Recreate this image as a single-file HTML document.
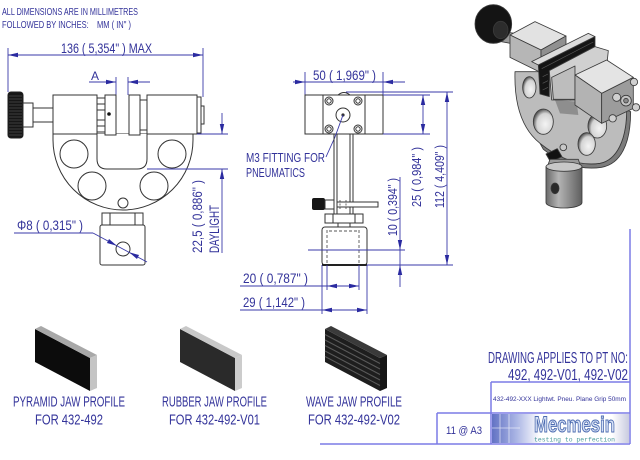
<!DOCTYPE html>
<html>
<head>
<meta charset="utf-8">
<style>
  html, body { margin: 0; padding: 0; background: #ffffff; }
  svg { display: block; }
  .t { font-family: "Liberation Sans Narrow", "Liberation Sans", sans-serif; fill: #33339a; }
  .o { fill: none; stroke: #333333; stroke-width: 1; }
  .ow { fill: #ffffff; stroke: #333333; stroke-width: 1; }
  .d { fill: none; stroke: #3a3aa8; stroke-width: 0.9; }
  .a { fill: #2a2aa0; stroke: none; }
  .tb { fill: none; stroke: #7b7be6; stroke-width: 1.5; }
</style>
</head>
<body>
<svg width="640" height="460" viewBox="0 0 640 460" xmlns="http://www.w3.org/2000/svg">
  <defs>
    <linearGradient id="logoG" x1="0" y1="0" x2="1" y2="0">
      <stop offset="0" stop-color="#6272c4"/>
      <stop offset="0.5" stop-color="#a9b4e4"/>
      <stop offset="1" stop-color="#ffffff"/>
    </linearGradient>
    <linearGradient id="logoR" x1="0" y1="0" x2="1" y2="0">
      <stop offset="0" stop-color="#ffffff"/>
      <stop offset="1" stop-color="#c9cbe0"/>
    </linearGradient>
    <linearGradient id="cyl" x1="0" y1="0" x2="1" y2="0">
      <stop offset="0" stop-color="#6a6a6a"/>
      <stop offset="0.35" stop-color="#b4b4b4"/>
      <stop offset="1" stop-color="#5e5e5e"/>
    </linearGradient>
    <radialGradient id="hole" cx="0.6" cy="0.6" r="0.6">
      <stop offset="0" stop-color="#f4f4f4"/>
      <stop offset="0.7" stop-color="#d4d4d4"/>
      <stop offset="1" stop-color="#5a5a5a"/>
    </radialGradient>
  </defs>

  <rect x="0" y="0" width="640" height="460" fill="#ffffff"/>

  <!-- Header notes -->
  <text class="t" x="2" y="15" font-size="10.5" textLength="136" lengthAdjust="spacingAndGlyphs">ALL DIMENSIONS ARE IN MILLIMETRES</text>
  <text class="t" x="2" y="28" font-size="10.5" textLength="129" lengthAdjust="spacingAndGlyphs" style="white-space:pre">FOLLOWED BY INCHES:    MM ( IN" )</text>

  <!-- ================= LEFT VIEW ================= -->
  <text class="t" x="61" y="53" font-size="14" textLength="91" lengthAdjust="spacingAndGlyphs">136 ( 5,354" ) MAX</text>
  <line class="d" x1="8" y1="55" x2="203" y2="55"/>
  <line class="d" x1="8" y1="48" x2="8" y2="92"/>
  <line class="d" x1="203" y1="48" x2="203" y2="97"/>
  <polygon class="a" points="8,55 18,52.8 18,57.2"/>
  <polygon class="a" points="203,55 193,52.8 193,57.2"/>

  <text class="t" x="91" y="80" font-size="11.5" textLength="8" lengthAdjust="spacingAndGlyphs">A</text>
  <line class="d" x1="89" y1="82" x2="116" y2="82"/>
  <line class="d" x1="128" y1="82" x2="150" y2="82"/>
  <line class="d" x1="116" y1="77" x2="116" y2="95"/>
  <line class="d" x1="128" y1="77" x2="128" y2="95"/>
  <polygon class="a" points="116,82 106,79.8 106,84.2"/>
  <polygon class="a" points="128,82 138,79.8 138,84.2"/>

  <!-- knob -->
  <rect x="8" y="92" width="15" height="46" rx="3" fill="#161616" stroke="#222"/>
  <g stroke="#4a4a4a" stroke-width="0.8">
    <line x1="9" y1="96" x2="22" y2="96"/><line x1="9" y1="99" x2="22" y2="99"/>
    <line x1="9" y1="102" x2="22" y2="102"/><line x1="9" y1="105" x2="22" y2="105"/>
    <line x1="9" y1="108" x2="22" y2="108"/><line x1="9" y1="111" x2="22" y2="111"/>
    <line x1="9" y1="114" x2="22" y2="114"/><line x1="9" y1="117" x2="22" y2="117"/>
    <line x1="9" y1="120" x2="22" y2="120"/><line x1="9" y1="123" x2="22" y2="123"/>
    <line x1="9" y1="126" x2="22" y2="126"/><line x1="9" y1="129" x2="22" y2="129"/>
    <line x1="9" y1="132" x2="22" y2="132"/><line x1="9" y1="135" x2="22" y2="135"/>
  </g>
  <rect class="ow" x="23" y="103" width="10" height="24"/>
  <rect class="ow" x="33" y="108" width="20" height="14"/>

  <!-- body (U plate) -->
  <path class="ow" d="M53,134 L53,140 A70,70 0 0 0 193,140 L193,134 Z"/>
  <path class="ow" d="M97,134 L97,159 Q97,169 107,169 L137,169 Q147,169 147,159 L147,134"/>
  <circle class="o" cx="74" cy="154" r="14"/>
  <circle class="o" cx="172" cy="154" r="14"/>
  <circle class="o" cx="92" cy="186" r="14"/>
  <circle class="o" cx="154" cy="186" r="14"/>
  <circle class="ow" cx="123" cy="203" r="5"/>

  <!-- blocks & jaws -->
  <rect class="ow" x="53" y="95" width="44" height="39"/>
  <rect class="ow" x="97" y="98" width="8" height="34"/>
  <g class="o"><line x1="97" y1="104" x2="105" y2="104"/><line x1="97" y1="110" x2="105" y2="110"/><line x1="97" y1="120" x2="105" y2="120"/><line x1="97" y1="126" x2="105" y2="126"/></g>
  <rect class="ow" x="105" y="95" width="11" height="40"/>
  <circle cx="109" cy="114" r="1.8" fill="#111"/>
  <rect class="ow" x="129" y="95" width="11" height="40"/>
  <rect class="ow" x="140" y="100" width="7" height="30"/>
  <rect class="ow" x="147" y="95" width="50" height="39"/>
  <rect class="ow" x="197" y="97" width="4" height="36"/>
  <rect class="ow" x="201" y="106" width="3" height="18"/>

  <!-- nut & base -->
  <rect class="ow" x="102" y="213" width="41" height="12"/>
  <line class="o" x1="110" y1="213" x2="110" y2="225"/>
  <line class="o" x1="135" y1="213" x2="135" y2="225"/>
  <rect class="ow" x="100" y="225" width="45" height="40" rx="2"/>
  <circle class="ow" cx="123" cy="249" r="7"/>

  <!-- phi dim -->
  <text class="t" x="17" y="230" font-size="14" textLength="66" lengthAdjust="spacingAndGlyphs">Φ8 ( 0,315" )</text>
  <line class="d" x1="14" y1="233" x2="93" y2="233"/>
  <line class="d" x1="93" y1="233" x2="147" y2="262"/>
  <polygon class="a" points="116.8,245.7 106.96,242.94 109.04,239.06"/>
  <polygon class="a" points="129.2,252.3 136.96,258.94 139.04,255.06"/>

  <!-- daylight dim -->
  <line class="d" x1="197" y1="134" x2="228" y2="134"/>
  <line class="d" x1="147" y1="169" x2="228" y2="169"/>
  <line class="d" x1="222" y1="113" x2="222" y2="134"/>
  <line class="d" x1="222" y1="169" x2="222" y2="253"/>
  <polygon class="a" points="222,134 219.8,124 224.2,124"/>
  <polygon class="a" points="222,169 219.8,179 224.2,179"/>
  <text class="t" transform="translate(202,253) rotate(-90)" x="0" y="0" font-size="14" textLength="73" lengthAdjust="spacingAndGlyphs">22,5 ( 0,886" )</text>
  <text class="t" transform="translate(219,253) rotate(-90)" x="0" y="0" font-size="14" textLength="48" lengthAdjust="spacingAndGlyphs">DAYLIGHT</text>

  <!-- ================= MIDDLE VIEW ================= -->
  <text class="t" x="313" y="80" font-size="13.5" textLength="63" lengthAdjust="spacingAndGlyphs">50 ( 1,969" )</text>
  <line class="d" x1="293" y1="82" x2="405" y2="82"/>
  <line class="d" x1="305" y1="72" x2="305" y2="95"/>
  <line class="d" x1="383" y1="72" x2="383" y2="95"/>
  <polygon class="a" points="305,82 295,79.8 295,84.2"/>
  <polygon class="a" points="383,82 393,79.8 393,84.2"/>

  <path class="ow" d="M338,95 Q344,90 350,95"/>
  <rect class="ow" x="305" y="95" width="78" height="39"/>
  <line class="o" x1="323" y1="95" x2="323" y2="134"/>
  <line class="o" x1="365" y1="95" x2="365" y2="134"/>
  <g class="ow">
    <circle cx="329" cy="101" r="4"/><circle cx="358" cy="101" r="4"/>
    <circle cx="329" cy="129" r="4"/><circle cx="358" cy="129" r="4"/>
  </g>
  <g class="o">
    <circle cx="329" cy="101" r="2.2"/><circle cx="358" cy="101" r="2.2"/>
    <circle cx="329" cy="129" r="2.2"/><circle cx="358" cy="129" r="2.2"/>
  </g>
  <circle class="ow" cx="343" cy="115" r="7"/>
  <circle cx="343" cy="115" r="1.6" fill="#333"/>
  <polyline class="d" points="343,115 335,137 326,157"/>
  <text class="t" x="246" y="162" font-size="13" textLength="79" lengthAdjust="spacingAndGlyphs">M3 FITTING FOR</text>
  <text class="t" x="246" y="177" font-size="13" textLength="59" lengthAdjust="spacingAndGlyphs">PNEUMATICS</text>

  <g class="o">
    <line x1="334" y1="134" x2="334" y2="214"/>
    <line x1="337" y1="134" x2="337" y2="214"/>
    <line x1="350" y1="134" x2="350" y2="214"/>
    <line x1="353" y1="134" x2="353" y2="214"/>
  </g>
  <rect x="312" y="198" width="13" height="12" rx="2" fill="#161616"/>
  <rect class="ow" x="325" y="200" width="9" height="9"/>
  <rect class="ow" x="337" y="202" width="41" height="5"/>
  <g stroke="#444" stroke-width="0.8" stroke-dasharray="2,1.5">
    <line x1="340" y1="200" x2="340" y2="209"/>
    <line x1="346" y1="200" x2="346" y2="209"/>
  </g>
  <rect class="ow" x="325" y="214" width="38" height="9"/>
  <line class="o" x1="333" y1="214" x2="333" y2="223"/>
  <line class="o" x1="355" y1="214" x2="355" y2="223"/>
  <rect class="ow" x="338" y="223" width="12" height="4"/>
  <rect class="ow" x="322" y="227" width="45" height="38" rx="3"/>
  <g stroke="#555" stroke-width="0.9" stroke-dasharray="3,2" fill="none">
    <line x1="327" y1="230" x2="327" y2="263"/>
    <line x1="359" y1="230" x2="359" y2="263"/>
    <line x1="329" y1="231" x2="357" y2="231"/>
  </g>
  <line x1="322" y1="265" x2="367" y2="265" stroke="#222" stroke-width="2"/>

  <line class="d" x1="308" y1="250" x2="405" y2="250"/>
  <line class="d" x1="367" y1="265" x2="453" y2="265"/>

  <text class="t" x="243" y="283" font-size="13.5" textLength="65" lengthAdjust="spacingAndGlyphs">20 ( 0,787" )</text>
  <line class="d" x1="240" y1="286" x2="359" y2="286"/>
  <line class="d" x1="327" y1="265" x2="327" y2="290"/>
  <line class="d" x1="359" y1="265" x2="359" y2="290"/>
  <polygon class="a" points="327,286 337,283.8 337,288.2"/>
  <polygon class="a" points="359,286 349,283.8 349,288.2"/>

  <text class="t" x="243" y="307" font-size="13.5" textLength="62" lengthAdjust="spacingAndGlyphs">29 ( 1,142" )</text>
  <line class="d" x1="240" y1="310" x2="367" y2="310"/>
  <line class="d" x1="322" y1="265" x2="322" y2="314"/>
  <line class="d" x1="367" y1="265" x2="367" y2="314"/>
  <polygon class="a" points="322,310 332,307.8 332,312.2"/>
  <polygon class="a" points="367,310 357,307.8 357,312.2"/>

  <line class="d" x1="346" y1="92" x2="453" y2="92"/>
  <line class="d" x1="383" y1="95" x2="430" y2="95"/>
  <line class="d" x1="383" y1="134" x2="430" y2="134"/>
  <line class="d" x1="423" y1="95" x2="423" y2="134"/>
  <polygon class="a" points="423,95 420.8,105 425.2,105"/>
  <polygon class="a" points="423,134 420.8,124 425.2,124"/>
  <text class="t" transform="translate(421,207) rotate(-90)" x="0" y="0" font-size="13" textLength="60" lengthAdjust="spacingAndGlyphs">25 ( 0,984" )</text>

  <line class="d" x1="447" y1="92" x2="447" y2="265"/>
  <polygon class="a" points="447,92 444.8,102 449.2,102"/>
  <polygon class="a" points="447,265 444.8,255 449.2,255"/>
  <text class="t" transform="translate(444,208) rotate(-90)" x="0" y="0" font-size="13" textLength="63" lengthAdjust="spacingAndGlyphs">112 ( 4,409" )</text>

  <line class="d" x1="400" y1="177" x2="400" y2="287"/>
  <polygon class="a" points="400,250 397.8,240 402.2,240"/>
  <polygon class="a" points="400,265 397.8,275 402.2,275"/>
  <text class="t" transform="translate(397,236) rotate(-90)" x="0" y="0" font-size="13" textLength="58" lengthAdjust="spacingAndGlyphs">10 ( 0,394" )</text>

  <!-- ================= 3D RENDER ================= -->
  <g transform="translate(460 0) scale(0.3333)" stroke="#3a3a3a" stroke-width="2.5" stroke-linejoin="round">
    <!-- plate thickness -->
    <path d="M500,330 C500,420 470,480 420,490 C350,500 290,470 240,430 L250,448 C300,488 360,512 425,502 C482,492 512,432 512,335 Z" fill="#7c7c7c"/>
    <!-- plate face -->
    <path d="M165,215 L245,215 L330,300 L490,265 L500,330 C500,420 470,480 420,490 C350,500 290,470 240,430 C190,390 162,320 165,215 Z" fill="#bcbcbc"/>
    <ellipse cx="208" cy="262" rx="20" ry="32" fill="url(#hole)"/>
    <ellipse cx="250" cy="365" rx="30" ry="38" fill="url(#hole)"/>
    <ellipse cx="412" cy="378" rx="28" ry="36" fill="url(#hole)"/>
    <ellipse cx="380" cy="432" rx="26" ry="34" fill="url(#hole)"/>
    <!-- slot shadow -->
    <path d="M285,300 L300,340 L355,345 L350,305 Z" fill="#8e8e8e" stroke="none"/>
    <!-- knob & shaft -->
    <path d="M118,92 L162,100 L162,132 L118,124 Z" fill="#9a9a9a"/>
    <ellipse cx="100" cy="72" rx="55" ry="58" fill="#141414"/>
    <ellipse cx="122" cy="90" rx="22" ry="26" fill="#2c2c2c"/>
    <!-- left block -->
    <path d="M150,105 L225,65 L318,108 L243,150 Z" fill="#e2e2e2"/>
    <path d="M150,105 L243,150 L243,218 L150,172 Z" fill="#b6b6b6"/>
    <path d="M243,150 L318,108 L318,170 L243,218 Z" fill="#909090"/>
    <!-- rear jaw -->
    <path d="M215,185 L385,100 L405,110 L235,195 Z" fill="#dcdcdc"/>
    <path d="M235,195 L405,110 L405,140 L268,212 L268,290 L240,282 Z" fill="#151515"/>
    <g stroke="#585858" stroke-width="2">
      <line x1="245" y1="206" x2="400" y2="126"/>
      <line x1="248" y1="230" x2="264" y2="222"/>
      <line x1="248" y1="250" x2="264" y2="242"/>
      <line x1="248" y1="270" x2="264" y2="262"/>
    </g>
    <!-- front jaw -->
    <path d="M268,212 L405,140 L445,152 L440,200 L345,252 L345,300 L275,300 Z" fill="#d0d0d0"/>
    <path d="M275,232 L345,198 L345,298 L280,298 Z" fill="#bdbdbd"/>
    <!-- right block -->
    <path d="M345,225 L440,180 L520,232 L425,280 Z" fill="#e4e4e4"/>
    <path d="M345,225 L425,280 L425,370 L345,315 Z" fill="#b3b3b3"/>
    <path d="M425,280 L520,232 L520,325 L425,370 Z" fill="#9c9c9c"/>
    <circle cx="470" cy="292" r="12" fill="#d0d0d0"/>
    <circle cx="522" cy="246" r="11" fill="#d0d0d0"/>
    <circle cx="458" cy="355" r="11" fill="#d0d0d0"/>
    <circle cx="528" cy="322" r="11" fill="#d0d0d0"/>
    <circle cx="498" cy="302" r="16" fill="#c4c4c4"/>
    <circle cx="498" cy="302" r="7" fill="#8a8a8a"/>
    <!-- pin -->
    <circle cx="310" cy="442" r="10" fill="#c8c8c8"/>
    <path d="M258,462 L292,446 L306,470 L272,486 Z" fill="#111"/>
    <!-- base cylinder -->
    <path d="M270,478 L355,478 L362,500 L262,500 Z" fill="#9a9a9a"/>
    <path d="M258,500 L366,500 L366,608 A54,16 0 0 1 258,608 Z" fill="url(#cyl)"/>
    <ellipse cx="312" cy="500" rx="54" ry="14" fill="#c8c8c8"/>
    <ellipse cx="285" cy="565" rx="12" ry="16" fill="#2a2a2a"/>
  </g>

  <!-- ================= JAW PROFILES ================= -->
  <polygon points="35,329 90,358 90,391 35,362" fill="#0c0c0c"/>
  <polygon points="35,329 41,326 97,355 90,358" fill="#a8a8a8"/>
  <polygon points="90,358 97,355 97,388 90,391" fill="#c4c4c4"/>

  <polygon points="180,329 235,358 235,391 180,362" fill="#2a2a2a"/>
  <polygon points="180,329 186,326 242,355 235,358" fill="#c8c8c8"/>
  <polygon points="235,358 242,355 242,388 235,391" fill="#cccccc"/>

  <polygon points="325,329 380,358 380,391 325,362" fill="#1e1e1e"/>
  <polygon points="325,329 331,326 387,355 380,358" fill="#3a3a3a"/>
  <polygon points="380,358 387,355 387,388 380,391" fill="#151515"/>
  <g stroke="#5a5a5a" stroke-width="1">
    <line x1="325" y1="334.5" x2="380" y2="363.5"/>
    <line x1="325" y1="340" x2="380" y2="369"/>
    <line x1="325" y1="345.5" x2="380" y2="374.5"/>
    <line x1="325" y1="351" x2="380" y2="380"/>
    <line x1="325" y1="356.5" x2="380" y2="385.5"/>
  </g>

  <text class="t" x="13" y="406.5" font-size="15" textLength="112" lengthAdjust="spacingAndGlyphs">PYRAMID JAW PROFILE</text>
  <text class="t" x="35" y="424.5" font-size="15" textLength="68" lengthAdjust="spacingAndGlyphs">FOR 432-492</text>
  <text class="t" x="162" y="406.5" font-size="15" textLength="105" lengthAdjust="spacingAndGlyphs">RUBBER JAW PROFILE</text>
  <text class="t" x="169" y="424.5" font-size="15" textLength="91" lengthAdjust="spacingAndGlyphs">FOR 432-492-V01</text>
  <text class="t" x="306" y="406.5" font-size="15" textLength="96" lengthAdjust="spacingAndGlyphs">WAVE JAW PROFILE</text>
  <text class="t" x="308" y="424.5" font-size="15" textLength="92" lengthAdjust="spacingAndGlyphs">FOR 432-492-V02</text>

  <!-- ================= TITLE BLOCK ================= -->
  <text class="t" x="488" y="363" font-size="16" textLength="140" lengthAdjust="spacingAndGlyphs">DRAWING APPLIES TO PT NO:</text>
  <text class="t" x="508" y="380" font-size="16" textLength="120" lengthAdjust="spacingAndGlyphs">492, 492-V01, 492-V02</text>
  <text class="t" x="493" y="401" font-size="6.5" textLength="133" lengthAdjust="spacingAndGlyphs">432-492-XXX Lightwt. Pneu. Plane Grip 50mm</text>
  <text class="t" x="446" y="434" font-size="11" textLength="36" lengthAdjust="spacingAndGlyphs">11 @ A3</text>

  <rect x="492" y="414" width="48" height="29" fill="url(#logoG)"/>
  <g stroke="#ffffff" stroke-width="0.8" opacity="0.7">
    <line x1="500" y1="414" x2="500" y2="443"/>
    <line x1="509" y1="414" x2="509" y2="443"/>
    <line x1="492" y1="428" x2="520" y2="428"/>
  </g>
  <rect x="612" y="414" width="17" height="29" fill="url(#logoR)"/>
  <text x="534" y="432" font-size="22" font-weight="bold" fill="#d6e1f6" stroke="#4e6cb0" stroke-width="1" textLength="81" lengthAdjust="spacingAndGlyphs" style="font-family:'Liberation Sans Narrow','Liberation Sans',sans-serif">Mecmesin</text>
  <text x="534" y="441.5" font-size="6" fill="#4a9a9a" textLength="81" lengthAdjust="spacingAndGlyphs" style="font-family:'Liberation Mono',monospace">testing to perfection</text>

  <line class="tb" x1="630" y1="229" x2="630" y2="444"/>
  <line class="tb" x1="320" y1="444" x2="630" y2="444"/>
  <line class="tb" x1="491" y1="382" x2="630" y2="382"/>
  <line class="tb" x1="491" y1="382" x2="491" y2="444"/>
  <line class="tb" x1="437" y1="413" x2="630" y2="413"/>
  <line class="tb" x1="437" y1="413" x2="437" y2="444"/>
</svg>
</body>
</html>
